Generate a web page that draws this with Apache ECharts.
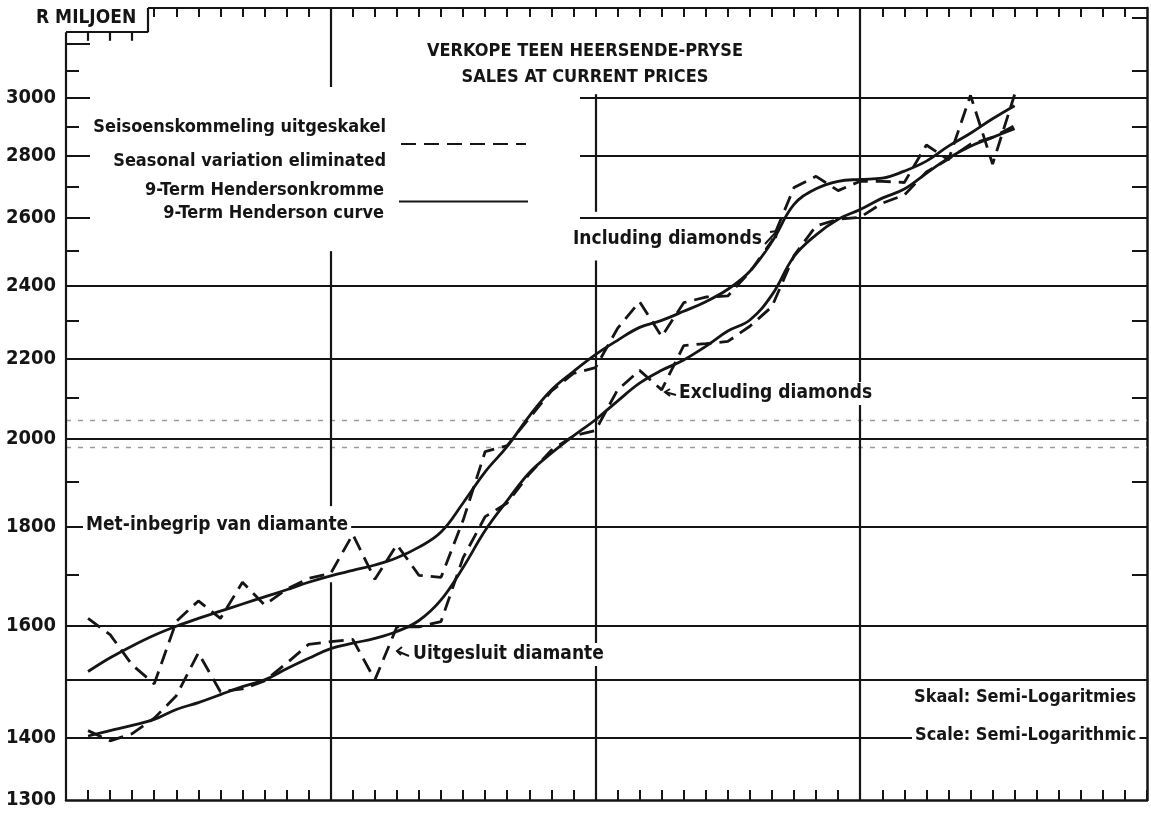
<!DOCTYPE html>
<html>
<head>
<meta charset="utf-8">
<title>Verkope teen heersende pryse</title>
<script src="https://cdn.jsdelivr.net/npm/echarts@6/dist/echarts.min.js"></script>
<style>
  html, body { margin: 0; padding: 0; background: #fff; }
  #main { width: 1151px; height: 818px; }
</style>
</head>
<body>
<div id="main"></div>
<script>
// month number along the x axis (12 ticks between the vertical rules)
var months = [1, 2, 3, 4, 5, 6, 7, 8, 9, 10, 11, 12, 13, 14, 15, 16, 17, 18, 19, 20,
  21, 22, 23, 24, 25, 26, 27, 28, 29, 30, 31, 32, 33, 34, 35, 36, 37, 38, 39, 40, 41, 42, 43]

// R miljoen
var inclSeasonal = [1614, 1583, 1527, 1493, 1608, 1648, 1614, 1685, 1640, 1671, 1693, 1703, 1784, 1691,
  1762, 1699, 1695, 1814, 1969, 1983, 2049, 2116, 2161, 2176, 2280, 2354, 2258, 2351, 2367, 2370,
  2439, 2531, 2697, 2733, 2687, 2717, 2717, 2713, 2837, 2787, 3010, 2773, 3013]
var inclTrend = [1515, 1540, 1562, 1582, 1599, 1614, 1628, 1642, 1656, 1670, 1685, 1698, 1709, 1720,
  1735, 1757, 1789, 1852, 1922, 1981, 2054, 2119, 2166, 2210, 2248, 2283, 2302, 2327, 2354, 2389,
  2441, 2528, 2643, 2693, 2717, 2723, 2727, 2750, 2783, 2833, 2877, 2927, 2973]
var exclSeasonal = [1412, 1395, 1407, 1433, 1472, 1549, 1479, 1484, 1498, 1530, 1565, 1570, 1574, 1500,
  1598, 1598, 1608, 1735, 1822, 1852, 1917, 1972, 2006, 2019, 2119, 2169, 2119, 2234, 2239, 2245,
  2286, 2340, 2487, 2576, 2597, 2603, 2647, 2673, 2747, 2790, 2840, 2863, 2903]
var exclTrend = [1403, 1412, 1421, 1431, 1448, 1460, 1474, 1488, 1500, 1520, 1539, 1557, 1567, 1576,
  1589, 1610, 1650, 1715, 1792, 1857, 1920, 1965, 2006, 2045, 2091, 2136, 2169, 2196, 2232, 2273,
  2303, 2373, 2484, 2549, 2597, 2627, 2663, 2692, 2743, 2793, 2833, 2863, 2893]

// axis values
var yLabels = [1300, 1400, 1600, 1800, 2000, 2200, 2400, 2600, 2800, 3000]
var leftTicks = [1400, 1500, 1600, 1700, 1800, 1900, 2000, 2100, 2200, 2300, 2400, 2500, 2600,
  2700, 2800, 2900, 3000, 3100, 3200]
var leftLongTicks = [2600, 2800, 3000, 3200]
var rightTicks = [1700, 1900, 2100, 2300, 2500, 2700, 2900, 3100, 3300]
var topTicks = [4, 5, 6, 7, 8, 9, 10, 11, 12, 13, 14, 15, 16, 17, 18, 19, 20, 21, 22, 23, 24, 25,
  26, 27, 28, 29, 30, 31, 32, 33, 34, 35, 36, 37, 38, 39, 40, 41, 42, 43, 44, 45, 46, 47, 48]
var notchTicks = [1, 2, 3]
var fullRules = [1400, 1500, 1600, 1800, 2000, 2200, 2400]
var rightRules = [2600, 2800, 3000]

// frame and rule layout (months / rand)
var xMax = 49
var yMin = 1300
var yMax = 3340
var notchX = 3.72
var notchY = 3245
var notchTickEnd = 3212
var rightRuleStart = 23.3
var verticalRules = [
  [12, 3340, 3040], [12, 2500, 1845], [12, 1685, 1300],
  [24, 3014, 2620], [24, 2472, 1300],
  [36, 3340, 1300]
]
var scanStreaks = [2044, 1979]

var INK = '#151515'
var FONT = "'DejaVu Sans Condensed', 'DejaVu Sans', sans-serif"

function L(v) {
  return Math.log10(v)
}
function pairs(vals) {
  return months.map(function (m, i) {
    return [m, L(vals[i])]
  })
}
function seg(x1, v1, x2, v2) {
  return [{ coord: [x1, L(v1)] }, { coord: [x2, L(v2)] }]
}

var frameLines = []
fullRules.forEach(function (v) { frameLines.push(seg(0, v, xMax, v)) })
rightRules.forEach(function (v) { frameLines.push(seg(rightRuleStart, v, xMax, v)) })
verticalRules.forEach(function (r) { frameLines.push(seg(r[0], r[1], r[0], r[2])) })
frameLines.push(seg(0, yMin, 0, notchY))
frameLines.push(seg(0, notchY, notchX, notchY))
frameLines.push(seg(notchX, notchY, notchX, yMax))
frameLines.push(seg(notchX, yMax, xMax, yMax))
notchTicks.forEach(function (m) { frameLines.push(seg(m, notchY, m, notchTickEnd)) })

var streakLines = scanStreaks.map(function (v) { return seg(0, v, xMax, v) })

var legendText = {
  'Seisoenskommeling uitgeskakel': '{a|Seisoenskommeling uitgeskakel}\n{a|Seasonal variation eliminated}',
  '9-Term Hendersonkromme': '{b|9-Term Hendersonkromme}\n{b|9-Term Henderson curve}'
}
var legendRich = {
  a: { fontFamily: FONT, fontWeight: 'bold', fontSize: 18, color: INK, lineHeight: 34, padding: [0, 10, 0, 0] },
  b: { fontFamily: FONT, fontWeight: 'bold', fontSize: 18, color: INK, lineHeight: 23, padding: [0, 10, 0, 0] }
}

function note(text, x, y, size, bg) {
  return {
    type: 'text', left: x, top: y, z: 50,
    style: {
      text: text, fill: INK, font: 'bold ' + size + 'px ' + FONT,
      backgroundColor: bg ? '#fff' : null, padding: bg ? [2, 3] : 0
    }
  }
}
function arrow(points) {
  return { type: 'polyline', z: 51, shape: { points: points }, style: { stroke: INK, lineWidth: 2, fill: null } }
}

var chart = echarts.init(document.getElementById('main'))
chart.setOption({
  animation: false,
  backgroundColor: '#fff',
  title: {
    text: 'VERKOPE TEEN HEERSENDE-PRYSE\nSALES AT CURRENT PRICES',
    left: 580, top: 33, textAlign: 'center',
    textStyle: { fontFamily: FONT, fontWeight: 'bold', fontSize: 18, lineHeight: 26, color: INK }
  },
  legend: [
    {
      data: ['Seisoenskommeling uitgeskakel'], right: 619, top: 113, align: 'right',
      itemWidth: 125, itemHeight: 14, selectedMode: false,
      itemStyle: { opacity: 0 },
      formatter: function (n) { return legendText[n] }, textStyle: { rich: legendRich }
    },
    {
      data: ['9-Term Hendersonkromme'], right: 617, top: 176, align: 'right',
      itemWidth: 129, itemHeight: 14, selectedMode: false,
      itemStyle: { opacity: 0 },
      formatter: function (n) { return legendText[n] }, textStyle: { rich: legendRich }
    }
  ],
  grid: { left: 66, right: 4, top: 8, bottom: 18 },
  xAxis: [
    {
      type: 'value', position: 'bottom', min: 0, max: xMax, interval: 1,
      axisLine: { show: true, lineStyle: { color: INK, width: 2.5 } },
      axisTick: { show: true, inside: true, length: 10, lineStyle: { color: INK, width: 2 } },
      axisLabel: { show: false }, splitLine: { show: false }
    },
    {
      type: 'value', position: 'top', min: 0, max: xMax, interval: 1,
      axisLine: { show: false },
      axisTick: { show: true, inside: true, length: 9, customValues: topTicks, lineStyle: { color: INK, width: 2 } },
      axisLabel: { show: false }, splitLine: { show: false }
    }
  ],
  yAxis: [
    {
      type: 'value', position: 'left', min: L(yMin), max: L(yMax),
      axisLine: { show: false },
      axisTick: { show: true, inside: true, length: 13, customValues: leftTicks.map(L), lineStyle: { color: INK, width: 2 } },
      axisLabel: {
        show: true, customValues: yLabels.map(L), margin: 10,
        color: INK, fontFamily: FONT, fontWeight: 'bold', fontSize: 20,
        formatter: function (v) { return String(Math.round(Math.pow(10, v))) }
      },
      splitLine: { show: false }
    },
    {
      type: 'value', position: 'left', min: L(yMin), max: L(yMax),
      axisLine: { show: false },
      axisTick: { show: true, inside: true, length: 24, customValues: leftLongTicks.map(L), lineStyle: { color: INK, width: 2 } },
      axisLabel: { show: false }, splitLine: { show: false }
    },
    {
      type: 'value', position: 'right', min: L(yMin), max: L(yMax),
      axisLine: { show: true, lineStyle: { color: INK, width: 2.5 } },
      axisTick: { show: true, inside: true, length: 15, customValues: rightTicks.map(L), lineStyle: { color: INK, width: 2 } },
      axisLabel: { show: false }, splitLine: { show: false }
    }
  ],
  series: [
    {
      name: 'scan', type: 'line', data: [], silent: true,
      markLine: {
        silent: true, symbol: 'none', label: { show: false }, animation: false,
        lineStyle: { color: '#9a9a9a', width: 1.3, type: [5, 7] },
        data: streakLines
      }
    },
    {
      name: 'frame', type: 'line', data: [], silent: true,
      markLine: {
        silent: true, symbol: 'none', label: { show: false }, animation: false,
        lineStyle: { color: INK, width: 2.2, type: 'solid' },
        data: frameLines
      }
    },
    {
      name: 'Seisoenskommeling uitgeskakel', type: 'line', data: pairs(inclSeasonal),
      symbol: 'none', z: 5, itemStyle: { color: INK }, lineStyle: { color: INK, width: 2.8, type: [15, 8] }
    },
    {
      name: 'Seisoenskommeling uitgeskakel', type: 'line', data: pairs(exclSeasonal),
      symbol: 'none', z: 5, itemStyle: { color: INK }, lineStyle: { color: INK, width: 2.8, type: [15, 8] }
    },
    {
      name: '9-Term Hendersonkromme', type: 'line', data: pairs(inclTrend),
      symbol: 'none', smooth: 0.4, z: 6, itemStyle: { color: INK }, lineStyle: { color: INK, width: 2.8 }
    },
    {
      name: '9-Term Hendersonkromme', type: 'line', data: pairs(exclTrend),
      symbol: 'none', smooth: 0.4, z: 6, itemStyle: { color: INK }, lineStyle: { color: INK, width: 2.8 }
    }
  ],
  graphic: [
    note('R MILJOEN', 36, 9, 19, false),
    note('Including diamonds', 570, 228, 19, true),
    arrow([[765, 244], [777, 231]]),
    arrow([[770, 232], [777, 231], [776, 238]]),
    note('Excluding diamonds', 676, 382, 19, true),
    arrow([[676, 395], [665, 392]]),
    arrow([[670, 389], [665, 392], [670, 396]]),
    note('Met-inbegrip van diamante', 83, 514, 19, true),
    note('Uitgesluit diamante', 410, 643, 19, true),
    arrow([[409, 656], [397, 651]]),
    arrow([[402, 647], [397, 651], [401, 655]]),
    note('Skaal: Semi-Logaritmies', 914, 688, 18, false),
    note('Scale: Semi-Logarithmic', 912, 724, 18, true)
  ]
})
</script>
</body>
</html>
